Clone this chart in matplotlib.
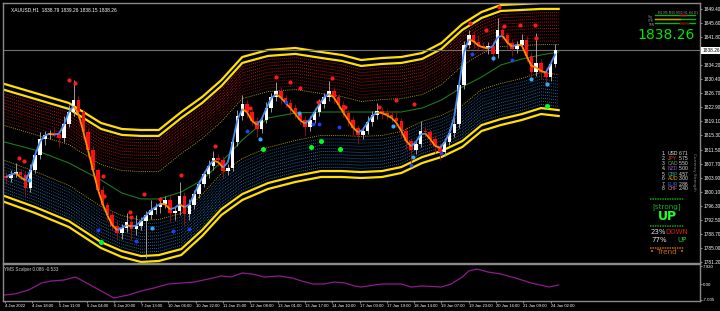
import numpy as np
import matplotlib
matplotlib.use('Agg')
import matplotlib.pyplot as plt
from matplotlib import font_manager
from matplotlib.collections import LineCollection

W, H = 720, 311

# small chart font: condensed face if the system has it
_names = {f.name for f in font_manager.fontManager.ttflist}
if 'Liberation Sans Narrow' in _names:
    SMALL, TS = 'Liberation Sans Narrow', 3.6
else:
    SMALL, TS = 'Liberation Sans', 3.0

# candle closes, one candle per 3 H1 bars
closes = [1803.84, 1804.92, 1805.46, 1804.65, 1801.14, 1805.99, 1810.04, 1814.35, 1815.43, 1815.97,
          1815.70, 1814.62, 1818.40, 1821.63, 1824.87, 1821.63, 1816.24, 1811.39, 1805.99, 1800.60,
          1796.56, 1793.86, 1790.90, 1789.01, 1790.36, 1791.98, 1790.09, 1790.90, 1792.24, 1793.86,
          1795.21, 1796.02, 1796.83, 1797.91, 1794.40, 1794.94, 1798.98, 1794.13, 1796.56, 1799.52,
          1802.22, 1804.92, 1807.07, 1809.23, 1808.69, 1805.72, 1806.53, 1813.54, 1820.55, 1823.79,
          1821.63, 1819.20, 1817.05, 1819.47, 1822.71, 1825.68, 1827.29, 1825.41, 1824.06, 1822.71,
          1821.09, 1819.47, 1817.59, 1819.47, 1821.63, 1823.79, 1825.68, 1827.29, 1825.68, 1823.52,
          1821.36, 1819.47, 1817.32, 1815.43, 1816.51, 1818.94, 1820.82, 1821.90, 1821.36, 1820.82,
          1820.01, 1819.20, 1816.51, 1813.81, 1811.39, 1813.00, 1816.51, 1816.24, 1814.35, 1812.46,
          1810.85, 1813.54, 1815.97, 1818.40, 1828.91, 1839.69, 1842.39, 1840.50, 1839.42, 1838.80,
          1839.40, 1837.27, 1843.74, 1842.39, 1840.23, 1838.62, 1839.69, 1841.04, 1836.73, 1832.42,
          1834.84, 1832.42, 1831.07, 1834.57, 1838.26]
first_open = 1804.30
wick_up = [1.2, 1.0, 2.5, 0.8, 1.0, 1.5, 1.2, 2.0, 1.0, 0.8,
           1.5, 1.0, 2.2, 1.8, 5.4, 1.0, 0.8, 1.2, 1.0, 0.6,
           1.0, 0.8, 1.0, 1.5, 1.2, 2.5, 1.0, 3.0, 1.0, 1.2,
           2.6, 1.0, 2.0, 1.0, 1.5, 1.0, 3.8, 1.2, 1.5, 1.0,
           1.2, 0.8, 1.5, 2.0, 1.0, 1.2, 1.0, 1.0, 1.5, 2.4,
           1.0, 0.8, 1.2, 1.0, 1.5, 1.2, 2.4, 1.0, 0.8, 1.0,
           1.2, 0.8, 1.0, 1.2, 1.0, 1.4, 1.2, 2.6, 1.0, 0.8,
           1.0, 0.8, 1.0, 0.8, 1.2, 1.5, 1.0, 2.2, 1.0, 1.2,
           1.0, 1.5, 0.8, 1.0, 0.8, 1.2, 2.8, 1.0, 0.8, 1.0,
           0.8, 1.2, 1.0, 1.5, 1.2, 1.0, 1.4, 1.0, 2.0, 1.2,
           1.0, 1.5, 3.2, 1.0, 0.8, 1.0, 1.2, 1.5, 1.0, 1.2,
           8.0, 1.0, 1.2, 1.0, 1.6]
wick_dn = [1.5, 1.0, 0.8, 1.2, 2.5, 1.0, 0.8, 1.2, 1.5, 1.0,
           0.8, 2.5, 1.0, 0.8, 1.0, 1.5, 2.0, 1.5, 1.0, 1.2,
           1.0, 1.5, 1.2, 2.0, 1.5, 1.0, 3.0, 1.5, 1.0, 10.0,
           1.2, 1.0, 1.5, 1.0, 2.5, 1.8, 1.0, 3.0, 1.5, 1.0,
           1.2, 0.8, 1.0, 1.2, 1.5, 2.0, 1.0, 0.8, 1.0, 1.2,
           1.5, 1.0, 2.2, 1.0, 0.8, 1.0, 1.2, 1.5, 1.0, 1.8,
           1.2, 1.0, 2.4, 1.0, 0.8, 1.0, 1.2, 1.0, 1.5, 1.2,
           1.0, 1.5, 1.8, 2.5, 1.0, 0.8, 1.0, 1.2, 1.5, 1.0,
           1.2, 1.5, 2.0, 2.5, 4.0, 1.0, 0.8, 1.2, 1.5, 2.0,
           2.2, 1.0, 0.8, 1.0, 1.2, 1.0, 0.8, 1.5, 1.2, 1.0,
           1.5, 2.0, 1.0, 1.2, 1.5, 2.0, 1.0, 0.8, 1.5, 2.0,
           1.2, 2.0, 2.4, 1.0, 0.8]

# channel lines (hour index -> price)
band_hours = [0, 19, 40, 60, 73, 85, 96, 110, 123, 135, 148, 164, 181,
              197, 210, 222, 235, 247, 260, 272, 285, 297, 309, 322, 334, 345]
band_top = [1829.18, 1826.75, 1824.06, 1818.67, 1817.05, 1816.78, 1816.78, 1821.63, 1825.68,
            1830.26, 1836.46, 1838.35, 1838.89, 1837.81, 1837.00, 1835.65, 1836.19, 1836.46,
            1837.54, 1840.23, 1845.36, 1848.59, 1850.48, 1850.75, 1851.02, 1851.02]
band_bot = [1797.37, 1794.40, 1790.63, 1784.97, 1782.54, 1781.19, 1781.46, 1783.08, 1788.20,
            1793.86, 1797.91, 1800.87, 1802.76, 1804.11, 1804.11, 1803.84, 1804.11, 1805.19,
            1807.88, 1809.50, 1812.20, 1816.51, 1818.13, 1819.47, 1821.09, 1820.55]
band_mid = [1813.54, 1811.39, 1807.88, 1803.30, 1799.79, 1798.18, 1798.18, 1800.06, 1803.30,
            1808.15, 1814.08, 1820.01, 1821.36, 1821.63, 1821.63, 1821.63, 1821.63, 1821.63,
            1822.71, 1824.87, 1828.37, 1831.07, 1834.30, 1835.92, 1837.00, 1837.81]

# signal dots
sell_h = [40, 44, 9, 12, 61, 62, 78, 79, 87, 97, 110, 131, 169, 178, 184, 153, 195, 204,
          212, 233, 244, 255, 290, 300, 308, 311, 321, 330, 331]
sell_p = [1830.26, 1829.45, 1809.23, 1808.42, 1804.38, 1799.00, 1794.67, 1793.32, 1799.52,
          1798.18, 1804.65, 1812.46, 1831.07, 1829.72, 1828.10, 1822.71, 1824.33, 1830.80,
          1822.98, 1822.98, 1824.87, 1823.79, 1845.63, 1843.74, 1849.94, 1844.82, 1845.09,
          1845.09, 1841.58]
buy_h = [58, 82, 105, 115, 151, 175, 192, 196, 208, 253, 291, 316, 272]
buy_p = [1789.82, 1786.85, 1789.55, 1790.09, 1816.51, 1824.33, 1818.40, 1818.40, 1817.59,
         1807.34, 1837.27, 1835.65, 1810.58]
buy2_h = [15, 92, 159, 183, 242, 254, 304, 328, 338]
buy2_p = [1803.30, 1790.36, 1814.35, 1821.36, 1817.86, 1809.50, 1836.19, 1830.53, 1829.18]
strong_h = [60, 161, 191, 197, 209, 338]
strong_p = [1786.58, 1811.66, 1812.19, 1813.81, 1811.66, 1823.25]

# YMS Scalper sub-window
osc_hours = [0, 6, 15, 23, 29, 37, 44, 50, 59, 68, 77, 85, 93, 102, 110, 118, 127, 135, 141,
             148, 154, 162, 171, 179, 185, 192, 199, 205, 212, 218, 222, 235, 247, 253, 260,
             272, 278, 285, 289, 294, 301, 309, 318, 328, 339, 345]
osc_vals = [-4.84, -4.40, -2.64, 0.44, 1.32, 1.76, 3.08, 0.88, -2.64, -6.16, -4.84, -3.08,
            -1.76, 0.00, 0.44, 0.88, 2.20, 3.52, 3.08, 4.84, 4.40, 3.08, 3.52, 2.64, 1.32,
            0.00, 0.00, 0.88, 0.44, -0.88, -1.32, 0.00, 0.00, -1.32, -0.88, -1.32, 0.00,
            3.08, 5.72, 6.60, 5.28, 4.40, 2.64, 0.44, -1.32, -0.44]

price_ticks = [1849.40, 1845.60, 1841.80, 1834.20, 1830.40, 1826.70, 1822.90,
               1819.10, 1815.30, 1811.50, 1807.70, 1803.90, 1800.10, 1796.30, 1792.50,
               1788.70, 1785.00, 1781.20]
time_labels = ['4 Jan 2022', '4 Jan 18:00', '5 Jan 11:00', '6 Jan 04:00', '6 Jan 20:00',
               '7 Jan 13:00', '10 Jan 06:00', '10 Jan 22:00', '11 Jan 15:00', '12 Jan 08:00',
               '13 Jan 01:00', '13 Jan 17:00', '14 Jan 10:00', '17 Jan 03:00', '17 Jan 19:00',
               '18 Jan 14:00', '19 Jan 07:00', '19 Jan 23:00', '20 Jan 16:00', '21 Jan 09:00',
               '24 Jan 02:00']
bid = 1838.26

cur_names = ['USD', 'JPY', 'CAD', 'NZD', 'GBP', 'AUD', 'EUR', 'CHF']
cur_vals = [6.71, 5.75, 5.50, 5.00, 4.57, 3.00, 2.86, 2.40]
cur_colors = ['#E8E8E8', '#D8402A', '#45C045', '#A848D0', '#2EA5A5', '#D8B000', '#2E62E8', '#E06A8A']


def fx(x):
    return x / W


def fy(y):
    return 1 - y / H


def hline(x0, x1, y, **kw):
    fig.lines.append(plt.Line2D([fx(x0), fx(x1)], [fy(y), fy(y)], transform=fig.transFigure, **kw))


fig = plt.figure(figsize=(W / 100, H / 100), dpi=100, facecolor='black')
ax = fig.add_axes([fx(3), fy(263), fx(697), 260 / H], facecolor='black')
ax2 = fig.add_axes([fx(3), fy(301), fx(697), 37 / H], facecolor='black', sharex=ax)

for a in (ax, ax2):
    for s in a.spines.values():
        s.set_color('#8A8A8A')
        s.set_linewidth(1.0)

# channel
bh = np.array(band_hours)
top = np.array(band_top)
bot = np.array(band_bot)
dots = (0, (1, 1.2))
for k in range(10):
    off = 2.6 + k * 0.85
    ax.plot(bh, top - off, ls=dots, color='#D01414' if k < 6 else '#901010', lw=0.65, zorder=1)
    ax.plot(bh, bot + off, ls=dots, color='#2478C0' if k < 6 else '#1C5E9C', lw=0.65, zorder=1)
ax.plot(bh, top - 11.2, ls=dots, color='#A89410', lw=0.7, zorder=1)
ax.plot(bh, bot + 11.2, ls=dots, color='#A89410', lw=0.7, zorder=1)
for off in (0.0, 1.6):
    ax.plot(bh, top - off, color='#FFE000', lw=1.6, zorder=2)
    ax.plot(bh, bot + off, color='#FFE000', lw=1.6, zorder=2)
ax.plot(bh, band_mid, color='#1C7A1C', lw=0.8, zorder=2)

# bid line
ax.axhline(bid, color='#707070', lw=0.8, zorder=2)

# candles
c = np.array(closes)
o = np.r_[first_open, c[:-1]]
x = np.arange(len(c)) * 3 + 1
hi = np.maximum(o, c) + np.array(wick_up)
lo = np.minimum(o, c) - np.array(wick_dn)
up = c >= o
ax.vlines(x[up], lo[up], hi[up], color='#B0B0B0', lw=0.6, zorder=3)
ax.vlines(x[~up], lo[~up], hi[~up], color='#A01010', lw=0.6, zorder=3)
body = np.maximum(np.abs(c - o), 0.25)
ax.bar(x[up], body[up], bottom=np.minimum(o, c)[up], width=2.2, color='white', lw=0, zorder=3)
ax.bar(x[~up], body[~up], bottom=np.minimum(o, c)[~up], width=2.2, color='#FF1010', lw=0, zorder=3)

# smoothed trend line, blue rising / orange falling
sm = np.convolve(np.r_[c[0], c, c[-1]], [0.25, 0.5, 0.25], mode='valid')
segs = [[(x[i], sm[i]), (x[i + 1], sm[i + 1])] for i in range(len(x) - 1)]
cols = ['#4A8BF0' if sm[i + 1] >= sm[i] else '#FF8C00' for i in range(len(x) - 1)]
ax.add_collection(LineCollection(segs, colors=cols, linewidths=1.3, zorder=4))

# signals
ax.plot(sell_h, sell_p, 'o', color='#FF1A1A', ms=3.0, mec='none', zorder=5)
ax.plot(buy_h, buy_p, 'o', color='#1F3FFF', ms=2.8, mec='none', zorder=5)
ax.plot(buy2_h, buy2_p, 'o', color='#38A8F8', ms=3.0, mec='none', zorder=5)
ax.plot(strong_h, strong_p, 'o', color='#00FF20', ms=3.6, mec='none', zorder=5)

ax.set_xlim(-1, 433)
ax.set_ylim(1780.92, 1851.02)
ax.yaxis.tick_right()
ax.set_yticks(price_ticks)
ax.set_yticklabels([f'{v:.2f}' for v in price_ticks], family=SMALL)
ax.tick_params(axis='y', colors='#8A8A8A', labelcolor='white', labelsize=TS + 0.4, length=1.5, pad=0.8)
ax.tick_params(axis='x', bottom=False, labelbottom=False)
ax.text(1.003, bid, f'{bid:.2f}', transform=ax.get_yaxis_transform(), fontsize=TS + 0.4,
        family=SMALL, color='black', va='center', ha='left',
        bbox=dict(boxstyle='square,pad=0.2', fc='white', ec='none'), zorder=10, clip_on=False)
ax.text(0.012, 0.985, 'XAUUSD,H1  1838.79 1839.26 1838.15 1838.26', transform=ax.transAxes,
        fontsize=TS + 0.5, family=SMALL, color='white', va='top', ha='left')

# sub-window
ax2.plot(osc_hours, osc_vals, color='#8E1B8E', lw=0.9)
ax2.set_ylim(-7.48, 8.8)
ax2.yaxis.tick_right()
ax2.set_yticks([7.92, 0.0, -7.005])
ax2.set_yticklabels(['7.920', '0.00', '-7.005'], family=SMALL)
ax2.tick_params(axis='y', colors='#8A8A8A', labelcolor='white', labelsize=TS + 0.2, length=1.5, pad=0.8)
ax2.set_xticks([17 * i for i in range(len(time_labels))])
ax2.set_xticklabels(time_labels, ha='left', family=SMALL)
ax2.tick_params(axis='x', colors='#8A8A8A', labelcolor='white', labelsize=TS, length=1.5, pad=0.5)
ax2.text(0.002, 0.93, 'YMS Scalper 0.086 -0.533', transform=ax2.transAxes, fontsize=TS + 0.3,
         family=SMALL, color='#D0D0D0', va='top', ha='left')

# right-hand overlay panel
fig.text(fx(695), fy(35), '1838.26', color='#00E600', fontsize=10, ha='right', va='center')
for yy in (15, 19, 23):
    hline(655, 695, yy, color='#10B010', lw=1.0)
hline(655, 680, 19, color='#E08A00', lw=1.0)
hline(680, 686, 15, color='#D02020', lw=1.0)
hline(680, 688, 23, color='#8A0000', lw=1.0)
fig.text(fx(658), fy(12.5), 'M1 M5 M15 M30 H1 H4 D1', color='#9A9A9A', fontsize=2.2,
         ha='left', va='center')
for yy, lab in ((17, 'Sig'), (20.5, 'STR'), (24.5, 'TRN')):
    fig.text(fx(648), fy(yy), lab, color='#9A9A9A', fontsize=2.2, ha='left', va='center')

for i, (n, v, col) in enumerate(zip(cur_names, cur_vals, cur_colors)):
    yy = 154 + i * 5.0
    fig.text(fx(666), fy(yy), f'{i + 1}.', color='#E0E0E0', fontsize=TS + 0.6, family=SMALL,
             ha='right', va='center')
    fig.text(fx(667.5), fy(yy), n, color=col, fontsize=TS + 0.6, family=SMALL, ha='left', va='center')
    fig.text(fx(679), fy(yy), f'{v:.2f}', color='#E0E0E0', fontsize=TS + 0.6, family=SMALL,
             ha='left', va='center')
fig.text(fx(694), fy(172), 'Currency Strength', color='#8A8A8A', fontsize=3.0, rotation=-90,
         ha='center', va='center')

for yy, col in ((199, '#12A012'), (226, '#12A012'), (247.5, '#C06A00')):
    hline(650, 684, yy, color=col, lw=1.1, ls=(0, (1, 0.6)))
fig.text(fx(667), fy(206.5), '[strong]', color='#22B022', fontsize=5.2, ha='center', va='center')
fig.text(fx(667), fy(216.5), 'UP', color='#22FF22', fontsize=9, fontweight='bold',
         ha='center', va='center')
fig.text(fx(651), fy(232), '23%', color='#E0E0E0', fontsize=5.0, ha='left', va='center')
fig.text(fx(665), fy(232), 'DOWN', color='#E01818', fontsize=5.0, ha='left', va='center')
fig.text(fx(651), fy(240.5), '77%', color='#E0E0E0', fontsize=5.0, ha='left', va='center')
fig.text(fx(677), fy(240.5), 'UP', color='#22D022', fontsize=5.0, ha='left', va='center')
fig.text(fx(652), fy(252), '•', color='#D07000', fontsize=5, ha='center', va='center')
fig.text(fx(667), fy(252), 'Trend', color='#D07000', fontsize=5.2, ha='center', va='center')
fig.text(fx(682), fy(252), '•', color='#D07000', fontsize=5, ha='center', va='center')

fig.savefig('out.png', dpi=100, facecolor='black')
